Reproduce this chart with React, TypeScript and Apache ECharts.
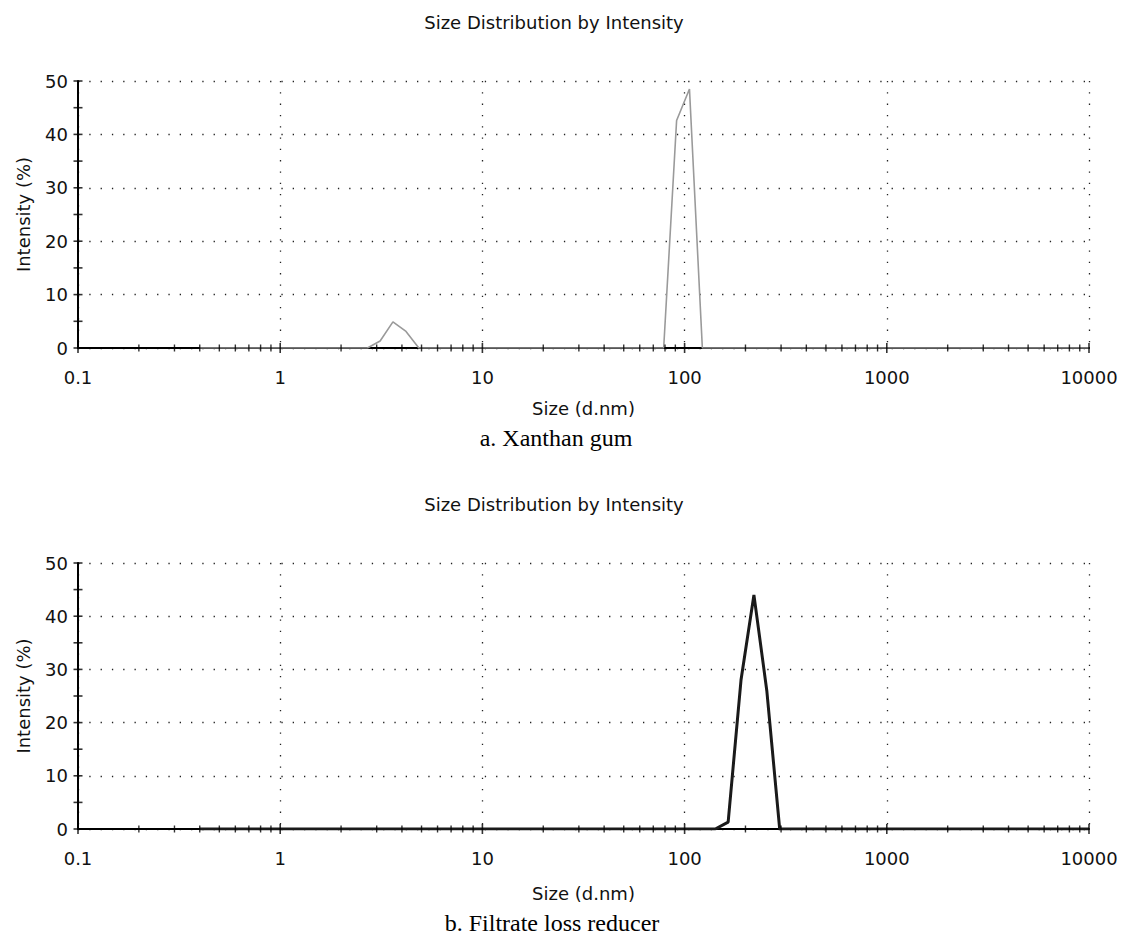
import React, { useEffect, useRef } from 'react';
import * as echarts from 'echarts';

// Data (size in d.nm, intensity in %)
const sizesA = [0.4, 2.70, 3.12, 3.61, 4.19, 4.85, 78.8, 91.3, 105.7, 122.4, 10000];
const intensityA = [0, 0, 1.3, 4.9, 3.1, 0, 0, 42.6, 48.5, 0, 0];
const sizesB = [0.4, 141.8, 164.2, 190.1, 220.2, 255.0, 295.3, 10000];
const intensityB = [0, 0, 1.3, 28, 44, 26, 0, 0];

const xTickLabels = ['0.1', '1', '10', '100', '1000', '10000'];
const decades = [0.1, 1, 10, 100, 1000, 10000];
const minorMultipliers = [2, 3, 4, 5, 6, 7, 8, 9];
const yMajorTicks = [0, 10, 20, 30, 40, 50];
const yMinorTicks = [5, 15, 25, 35, 45];

const chartTitle = 'Size Distribution by Intensity';
const captionA = 'a. Xanthan gum';
const captionB = 'b. Filtrate loss reducer';

const FONT = 'DejaVu Sans';
const SERIF = 'Liberation Serif';

function buildAxes(gridIndex: number, nameGap: number) {
  const dotted = { color: '#222', width: 1.3, type: [1.3, 10] as any };
  const xAxis = {
    type: 'log',
    gridIndex,
    logBase: 10,
    min: 0.1,
    max: 10000,
    axisLine: { show: true, onZero: false, lineStyle: { color: '#000', width: 2 } },
    axisTick: { show: false },
    axisLabel: {
      fontSize: 18,
      fontFamily: FONT,
      color: '#111',
      margin: 20,
      formatter: (v: number) => {
        const k = decades.findIndex((d) => Math.abs(Math.log10(d) - Math.log10(v)) < 1e-6);
        return k >= 0 ? xTickLabels[k] : '';
      },
    },
    splitLine: { show: true, lineStyle: dotted },
    name: 'Size (d.nm)',
    nameLocation: 'middle',
    nameGap,
    nameTextStyle: { fontSize: 18, fontFamily: FONT, color: '#111' },
  };
  const yAxis = {
    type: 'value',
    gridIndex,
    min: 0,
    max: 50,
    interval: 10,
    axisLine: { show: true, lineStyle: { color: '#000', width: 2 } },
    axisTick: { show: false },
    axisLabel: { fontSize: 18, fontFamily: FONT, color: '#111', margin: 10 },
    splitLine: { show: true, lineStyle: dotted },
    name: 'Intensity (%)',
    nameLocation: 'middle',
    nameGap: 46,
    nameRotate: 90,
    nameTextStyle: { fontSize: 18, fontFamily: FONT, color: '#111' },
  };
  return { xAxis, yAxis };
}

function tickSeries(idx: number) {
  const majorX = decades.map((d) => [d, 0]);
  const minorX: number[][] = [];
  decades.slice(0, -1).forEach((d) => minorMultipliers.forEach((m) => minorX.push([d * m, 0])));
  const yT = yMajorTicks.concat(yMinorTicks).map((v) => [0.1, v]);
  const base = {
    type: 'scatter',
    xAxisIndex: idx,
    yAxisIndex: idx,
    symbol: 'rect',
    clip: false,
    silent: true,
    z: 5,
    itemStyle: { color: '#000' },
  };
  return [
    { ...base, data: majorX, symbolSize: [1.6, 10] },
    { ...base, data: minorX, symbolSize: [1.4, 7] },
    { ...base, data: yT, symbolSize: [9, 1.6] },
  ];
}

export default function App() {
  const ref = useRef<HTMLDivElement>(null);
  useEffect(() => {
    document.body.style.margin = '0';
    if (!ref.current) return;
    const chart = echarts.init(ref.current, null, { renderer: 'svg' });
    const a = buildAxes(0, 51);
    const b = buildAxes(1, 55);
    chart.setOption({
      animation: false,
      backgroundColor: '#fff',
      grid: [
        { left: 78, top: 81, width: 1011, height: 267 },
        { left: 78, top: 563, width: 1011, height: 266 },
      ],
      xAxis: [a.xAxis, b.xAxis],
      yAxis: [a.yAxis, b.yAxis],
      series: [
        {
          type: 'line',
          xAxisIndex: 0,
          yAxisIndex: 0,
          data: sizesA.map((s, i) => [s, intensityA[i]]),
          symbol: 'none',
          lineStyle: { color: '#9a9a9a', width: 1.6 },
          z: 3,
          silent: true,
        },
        {
          type: 'line',
          xAxisIndex: 1,
          yAxisIndex: 1,
          data: sizesB.map((s, i) => [s, intensityB[i]]),
          symbol: 'none',
          lineStyle: { color: '#1a1a1a', width: 3 },
          z: 3,
          silent: true,
        },
        ...tickSeries(0),
        ...tickSeries(1),
      ],
      graphic: [
        { type: 'text', x: 554, y: 22, style: { text: chartTitle, fontSize: 18, fontFamily: FONT, fill: '#111', align: 'center', verticalAlign: 'middle' } },
        { type: 'text', x: 554, y: 504, style: { text: chartTitle, fontSize: 18, fontFamily: FONT, fill: '#111', align: 'center', verticalAlign: 'middle' } },
        { type: 'text', x: 556, y: 438, style: { text: captionA, fontSize: 24, fontFamily: SERIF, fill: '#000', align: 'center', verticalAlign: 'middle' } },
        { type: 'text', x: 552, y: 923, style: { text: captionB, fontSize: 24, fontFamily: SERIF, fill: '#000', align: 'center', verticalAlign: 'middle' } },
      ],
    });
    return () => chart.dispose();
  }, []);
  return <div ref={ref} style={{ width: 1122, height: 946 }} />;
}
